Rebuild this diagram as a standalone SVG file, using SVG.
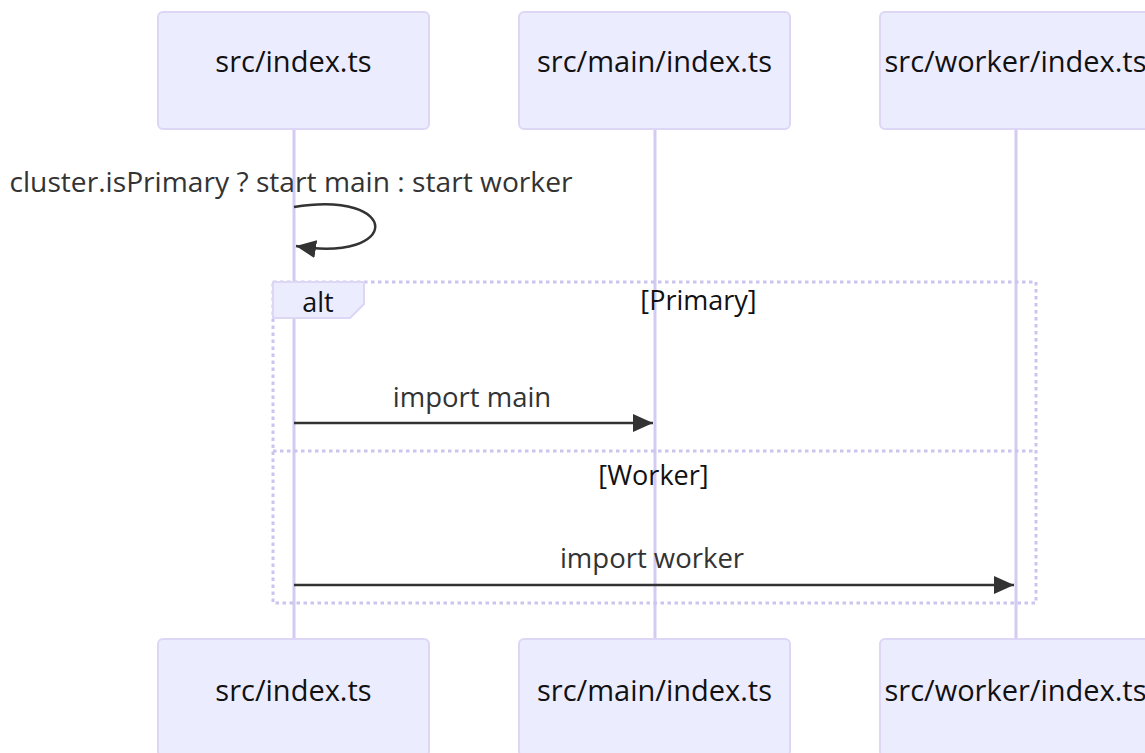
<svg xmlns="http://www.w3.org/2000/svg" width="1145" height="753" viewBox="0 0 1145 753">
<style>
.actor rect{fill:#ececff;stroke:#ddd6f5;stroke-width:2}
.actor text{font-family:"Open Sans","DejaVu Sans",sans-serif;font-size:29px;fill:#111;text-anchor:middle}
.life{stroke:#d3cbf2;stroke-width:3}
.msg{font-family:"Open Sans","DejaVu Sans",sans-serif;font-size:27.5px;fill:#333;text-anchor:middle}
.line{stroke:#333;stroke-width:2.5;fill:none}
.loop{stroke:#ccc4ee;stroke-width:3;fill:none;stroke-dasharray:3.5 3.5}
.lbl{font-family:"Open Sans","DejaVu Sans",sans-serif;font-size:27px;fill:#111;text-anchor:middle}
</style>
<defs>
<marker id="arrow" viewBox="0 0 20 18" refX="20" refY="9" markerWidth="20" markerHeight="18" markerUnits="userSpaceOnUse" orient="auto">
<path d="M0,0 L20,9 L0,18 z" fill="#333"/>
</marker>
</defs>
<rect width="1145" height="753" fill="#fff"/>
<g id="lifelines">
<line class="life" x1="294" y1="129" x2="294" y2="639"/>
<line class="life" x1="655" y1="129" x2="655" y2="639"/>
<line class="life" x1="1016" y1="129" x2="1016" y2="639"/>
</g>
<g id="actor-index-top" class="actor"><rect x="158" y="12" width="271" height="117" rx="5"/><text x="293.5" y="72">src/index.ts</text></g>
<g id="actor-main-top" class="actor"><rect x="519" y="12" width="271" height="117" rx="5"/><text x="654.5" y="72">src/main/index.ts</text></g>
<g id="actor-worker-top" class="actor"><rect x="880" y="12" width="271" height="117" rx="5"/><text x="1015.5" y="72">src/worker/index.ts</text></g>
<g id="actor-index-bottom" class="actor"><rect x="158" y="639" width="271" height="117" rx="5"/><text x="293.5" y="701">src/index.ts</text></g>
<g id="actor-main-bottom" class="actor"><rect x="519" y="639" width="271" height="117" rx="5"/><text x="654.5" y="701">src/main/index.ts</text></g>
<g id="actor-worker-bottom" class="actor"><rect x="880" y="639" width="271" height="117" rx="5"/><text x="1015.5" y="701">src/worker/index.ts</text></g>
<g id="alt">
<rect class="loop" x="273" y="282" width="763" height="321"/>
<line class="loop" x1="273" y1="451" x2="1036" y2="451"/>
<polygon points="273,282 364,282 364,304 350,318 273,318" fill="#ececff" stroke="#ddd6f5" stroke-width="2"/>
<text class="lbl" x="318" y="312">alt</text>
<text class="lbl" x="698.5" y="310">[Primary]</text>
<text class="lbl" x="653.5" y="485">[Worker]</text>
</g>
<g id="connectors">
<text class="msg" x="291" y="192" textLength="563" lengthAdjust="spacingAndGlyphs">cluster.isPrimary ? start main : start worker</text>
<path class="line" d="M294,207 C402,190 402,263 296,246" marker-end="url(#arrow)"/>
<text class="msg" x="472" y="407">import main</text>
<line class="line" x1="294" y1="423" x2="653" y2="423" marker-end="url(#arrow)"/>
<text class="msg" x="652" y="568">import worker</text>
<line class="line" x1="294" y1="585" x2="1014" y2="585" marker-end="url(#arrow)"/>
</g>
</svg>
